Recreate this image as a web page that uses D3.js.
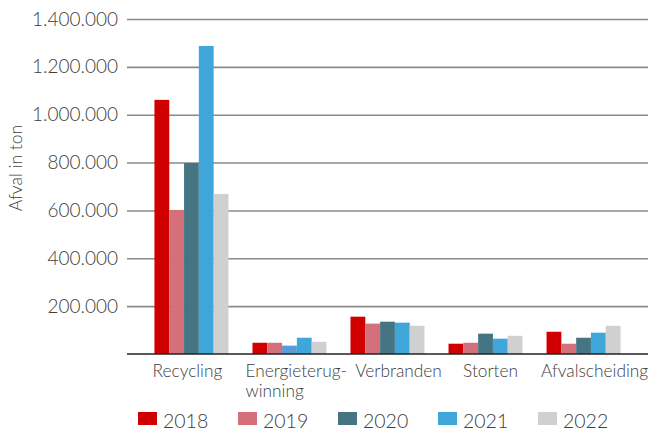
<!DOCTYPE html>
<html lang="nl">
<head>
  <meta charset="UTF-8" />
  <title>Afval in ton</title>
  <script src="https://d3js.org/d3.v7.min.js"></script>
  <style>
    body { margin: 0; background: #fff; font-family: Lato, sans-serif; }
    text { fill: #404040; font-family: Lato, sans-serif; font-weight: 300; }
  </style>
</head>
<body>
  <div id="chart"></div>
  <script>
    const categories = ["Recycling", "Energieterug-winning", "Verbranden", "Storten", "Afvalscheiding"];
    const years = ["2018", "2019", "2020", "2021", "2022"];
    const colors = ["#d10000", "#d4707a", "#457583", "#3ea6d9", "#d0d0d0"];
    const values2018 = [1062000, 47000, 156000, 43000, 93000];
    const values2019 = [602000, 47000, 127000, 47000, 43000];
    const values2020 = [798000, 35000, 135000, 85000, 68000];
    const values2021 = [1287000, 68000, 131000, 64000, 89000];
    const values2022 = [669000, 51000, 118000, 76000, 118000];
    const series = [values2018, values2019, values2020, values2021, values2022];
    const yTicks = [0, 200000, 400000, 600000, 800000, 1000000, 1200000, 1400000];

    const width = 651, height = 434;
    const plotLeft = 127, plotRight = 648, plotTop = 19, plotBottom = 354;
    const labelNudge = [-4, 5, 11, 5, 11];

    const svg = d3.select("#chart").append("svg")
      .attr("width", width).attr("height", height);

    const y = d3.scaleLinear().domain([0, 1400000]).range([plotBottom, plotTop]);
    const x0 = d3.scaleBand().domain(categories).range([plotLeft, plotRight])
      .paddingInner(0.245).paddingOuter(0.28);
    const x1 = d3.scaleBand().domain(years).range([0, x0.bandwidth()]);

    const fmt = v => d3.format(",")(v).replace(/,/g, ".");

    // gridlines + tick labels
    const yAxis = svg.append("g")
      .attr("transform", `translate(${plotLeft},0)`)
      .call(d3.axisLeft(y).tickValues(yTicks.slice(1)).tickSize(-(plotRight - plotLeft)).tickFormat(fmt));
    yAxis.select(".domain").remove();
    yAxis.selectAll(".tick line").attr("stroke", "#8a8a8a").attr("stroke-width", 1.6);
    yAxis.selectAll(".tick text").attr("x", -9).attr("font-size", 19)
      .attr("fill", "#404040").attr("font-family", null);

    // bars
    const groups = svg.append("g").selectAll("g")
      .data(categories).join("g")
      .attr("transform", d => `translate(${x0(d)},0)`);
    groups.selectAll("rect")
      .data((c, i) => years.map((yr, j) => ({ yr, j, v: series[j][i], cat: c })))
      .join("rect")
      .attr("x", d => x1(d.yr))
      .attr("y", d => y(d.v))
      .attr("width", x1.bandwidth())
      .attr("height", d => y(0) - y(d.v))
      .attr("fill", d => (d.cat === "Energieterug-winning" && d.yr === "2020") ? "#5b9bd5" : colors[d.j]);

    // baseline
    svg.append("line")
      .attr("x1", plotLeft).attr("x2", plotRight).attr("y1", y(0)).attr("y2", y(0))
      .attr("stroke", "#222").attr("stroke-width", 1.6);

    // category labels (wrapped one is left-aligned under its first line)
    svg.append("g").selectAll("text")
      .data(categories).join("text")
      .attr("font-size", 17.3)
      .each(function (d, i) {
        const t = d3.select(this);
        const cx = x0(d) + x0.bandwidth() / 2 + labelNudge[i];
        if (d.includes("-")) {
          const parts = [d.split("-")[0] + "-", d.split("-")[1]];
          t.attr("text-anchor", "start");
          parts.forEach((p, k) => {
            t.append("tspan").attr("x", cx - 49).attr("y", 377 + k * 20).text(p);
          });
        } else {
          t.attr("text-anchor", "middle").attr("x", cx).attr("y", 377).text(d);
        }
      });

    // y title
    svg.append("text")
      .attr("transform", "translate(22,168) rotate(-90)")
      .attr("text-anchor", "middle")
      .attr("font-size", 17.5)
      .text("Afval in ton");

    // legend
    const legend = svg.append("g").selectAll("g")
      .data(years).join("g")
      .attr("transform", (d, i) => `translate(${138 + i * 100},412)`);
    legend.append("rect").attr("width", 19).attr("height", 13).attr("fill", (d, i) => colors[i]);
    legend.append("text").attr("x", 25).attr("y", 16).attr("font-size", 19.5).text(d => d);
  </script>
</body>
</html>
